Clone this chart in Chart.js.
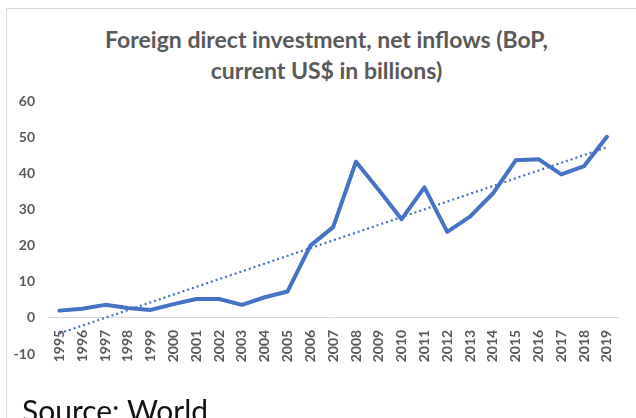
<!DOCTYPE html>
<html>
<head>
<meta charset="utf-8">
<script src="https://cdn.jsdelivr.net/npm/chart.js@4/dist/chart.umd.min.js"></script>
<style>
    body { margin: 0; background: #fff; overflow: hidden; }
    .frame { position: absolute; left: 6px; top: 8px; width: 700px; height: 500px; border: 1px solid #d9d9d9; }
    #chart { position: absolute; left: 0; top: 0; }
    .title { position: absolute; left: 0; top: 24px; width: 653px; text-align: center; font-family: Lato, sans-serif;
        font-weight: bold; font-size: 23px; line-height: 31px; color: #595959; }
    .source { position: absolute; left: 22px; top: 395px; font-family: Lato, sans-serif; font-size: 30px; line-height: 1; color: #111; white-space: nowrap; }
</style>
</head>
<body>
<div class="frame"></div>
<div class="title">Foreign direct investment, net inflows (BoP,<br>current US$ in billions)</div>
<canvas id="chart" width="636" height="418"></canvas>
<div class="source">Source: World</div>
<script>
const years = ['1995', '1996', '1997', '1998', '1999', '2000', '2001', '2002', '2003', '2004', '2005', '2006',
    '2007', '2008', '2009', '2010', '2011', '2012', '2013', '2014', '2015', '2016', '2017', '2018', '2019'];

// net inflows, billions of US$
const fdiInflows = [2.0, 2.5, 3.6, 2.7, 2.2, 3.8, 5.2, 5.2, 3.6, 5.7, 7.3, 20.0,
    25.1, 43.2, 35.4, 27.3, 36.1, 23.8, 28.0, 34.4, 43.6, 43.9, 39.7, 42.0, 50.1];

// linear trendline, read at its two ends
const trendYears = ['1995', '2019'];
const trendValues = [-4.3, 47.2];

const yTicks = [-10, 0, 10, 20, 30, 40, 50, 60];

const grey = '#595959';
const blue = '#4472C4';

const trendData = trendYears.map(function(year, i){
    return { x: year, y: trendValues[i] };
});

const ctx = document.getElementById('chart');

const chart = new Chart(ctx, {
    type: 'line',
    data: {
        labels: years,
        datasets: [
            {
                label: 'Trend',
                data: trendData,
                borderColor: blue,
                borderWidth: 2.2,
                borderDash: [2, 3],
                pointRadius: 0,
                fill: false,
                order: 0
            },
            {
                label: 'FDI net inflows',
                data: fdiInflows,
                borderColor: blue,
                borderWidth: 4,
                borderJoinStyle: 'round',
                borderCapStyle: 'round',
                pointRadius: 0,
                tension: 0,
                fill: false,
                order: 1
            }
        ]
    },
    options: {
        responsive: false,
        animation: false,
        devicePixelRatio: 1,
        layout: {
            padding: { left: 0, right: 13, top: 101, bottom: 64 }
        },
        plugins: {
            legend: { display: false },
            tooltip: { enabled: false },
            title: { display: false }
        },
        scales: {
            x: {
                position: { y: 0 },
                offset: true,
                grid: { display: false, drawTicks: false },
                border: { display: true, color: '#d9d9d9', width: 1 },
                ticks: {
                    autoSkip: false,
                    minRotation: 90,
                    maxRotation: 90,
                    padding: 12,
                    color: grey,
                    font: { family: 'Lato', size: 14, weight: 'bold' }
                }
            },
            y: {
                min: yTicks[0],
                max: yTicks[yTicks.length - 1],
                afterFit: function(scale){
                    scale.width = 48;
                },
                afterBuildTicks: function(scale){
                    scale.ticks = yTicks.map(v => ({ value: v }));
                },
                grid: { display: false, drawTicks: false },
                border: { display: false },
                ticks: {
                    padding: 13,
                    color: grey,
                    font: { family: 'Lato', size: 14, weight: 'bold' }
                }
            }
        }
    }
});
</script>
</body>
</html>
